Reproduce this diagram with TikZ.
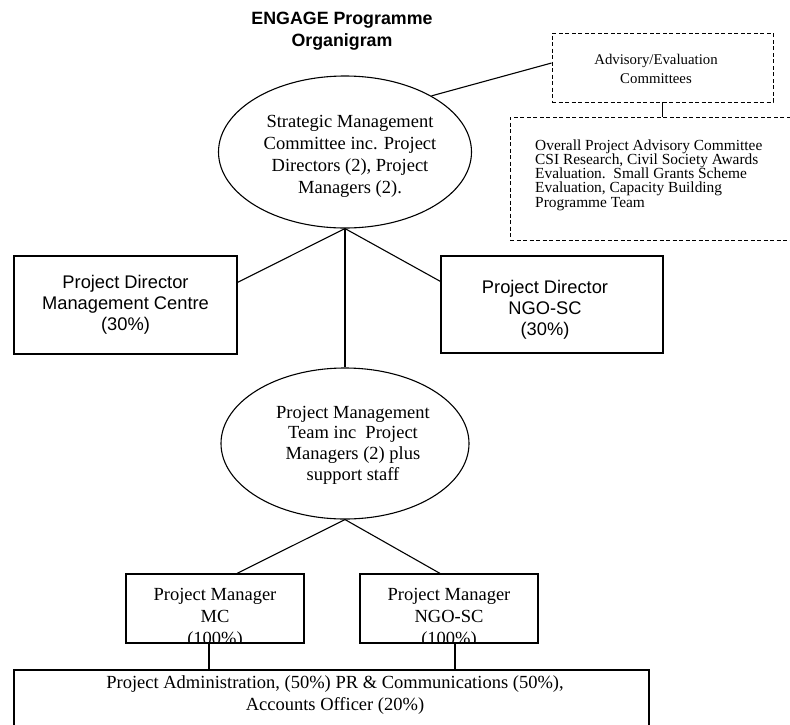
\documentclass[tikz,border=0pt]{standalone}
\usepackage{fontspec}
\setmainfont{Liberation Serif}
\newfontfamily\arialfont{Liberation Sans}
\usetikzlibrary{shapes.geometric,calc}
\begin{document}
\begin{tikzpicture}[x=1pt,y=-1pt,
  solidbox/.style={draw,line width=1.2pt,rectangle,inner sep=0pt},
  dashbox/.style={draw,line width=0.9pt,dash pattern=on 4pt off 2.5pt,rectangle,inner sep=0pt},
  oval/.style={draw,line width=1.1pt,ellipse,inner sep=0pt},
  conn/.style={line width=1.1pt},
  txt/.style={inner sep=0pt,align=center},
  times/.style={font=\fontsize{18.5}{22}\selectfont},
  sans/.style={font=\arialfont\fontsize{18.3}{21}\selectfont},
]
\useasboundingbox (0,0) rectangle (790,724);
\clip (0,0) rectangle (790,724);
\fill[white] (0,0) rectangle (790,724);

% title
\node[txt,font=\arialfont\bfseries\fontsize{17.8}{22}\selectfont] (title) at (342,31.5) {ENGAGE Programme\\Organigram};

% strategic management committee
\node[oval,minimum width=253pt,minimum height=152pt] (sm) at (345,152) {};
\node[txt,times] (smt) at (350,156) {Strategic Management\\Committee inc. Project\\Directors (2), Project\\Managers (2).};

% advisory boxes
\node[dashbox,minimum width=221pt,minimum height=69pt] (adv) at (662.5,67.5) {};
\node[txt,font=\fontsize{14.8}{19}\selectfont] (advt) at (656,68.5) {Advisory/Evaluation\\Committees};
\node[dashbox,minimum width=290pt,minimum height=123pt] (list) at (655,178.5) {};
\node[inner sep=0pt,align=left,anchor=north west,font=\fontsize{15.4}{14.2}\selectfont] (listt) at (535,139.5) {Overall Project Advisory Committee\\CSI Research, Civil Society Awards\\Evaluation.\ \ Small Grants Scheme\\Evaluation, Capacity Building\\Programme Team};

% project directors
\node[solidbox,minimum width=223pt,minimum height=98pt,sans,align=center] (pdmc) at (125.5,305) {Project Director\\Management Centre\\(30\%)};
\node[solidbox,minimum width=222pt,minimum height=97pt] (pdngo) at (552,304.5) {};
\node[txt,sans] (pdngot) at (545,310) {Project Director\\NGO-SC\\(30\%)};

% project management team
\node[oval,minimum width=248pt,minimum height=151pt] (pmt) at (345,443.5) {};
\node[txt,font=\fontsize{18.5}{20.7}\selectfont] (pmtt) at (353,445) {Project Management\\Team inc\ \ Project\\Managers (2) plus\\support staff};

% project managers
\node[solidbox,minimum width=178pt,minimum height=69pt] (pmmc) at (215,608.5) {};
\begin{scope}
\clip (pmmc.north west) rectangle (pmmc.south east);
\node[txt,times] (pmmct) at (215,618) {Project Manager\\MC\\(100\%)};
\end{scope}
\node[solidbox,minimum width=178pt,minimum height=69pt] (pmngo) at (449,608.5) {};
\begin{scope}
\clip (pmngo.north west) rectangle (pmngo.south east);
\node[txt,times] (pmngot) at (449,618) {Project Manager\\NGO-SC\\(100\%)};
\end{scope}

% administration
\node[solidbox,minimum width=635pt,minimum height=70pt] (admin) at (331.5,705) {};
\node[txt,times] (admint) at (335,695.4) {Project Administration, (50\%) PR \& Communications (50\%),\\Accounts Officer (20\%)};

% connectors
\draw[conn] (sm.33) -- ([yshift=4.5pt]adv.west);
\draw[conn] (adv.south) -- (adv.south |- list.north);
\draw[conn] (sm.south) -- ($(pdmc.north east)+(0,27)$);
\draw[conn] (sm.south) -- ($(pdngo.north west)+(0,26)$);
\draw[conn] (sm.south) -- (pmt.north);
\draw[conn] (pmt.south) -- ($(pmmc.north)+(22,0)$);
\draw[conn] (pmt.south) -- ($(pmngo.north)+(-9,0)$);
\coordinate (c1) at ($(pmmc.south)+(-6,0)$);
\coordinate (c2) at ($(pmngo.south)+(6,0)$);
\draw[conn] (c1) -- (c1 |- admin.north);
\draw[conn] (c2) -- (c2 |- admin.north);
\end{tikzpicture}
\end{document}
